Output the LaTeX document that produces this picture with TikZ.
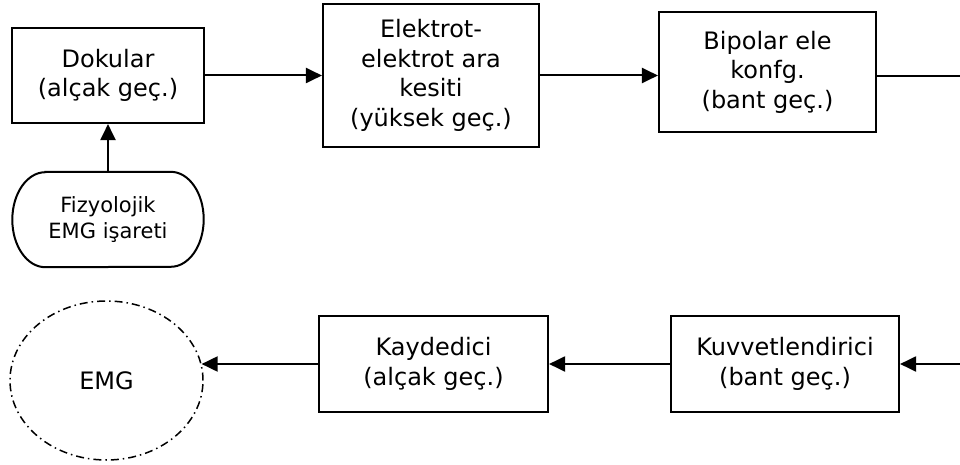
\documentclass[tikz,border=0pt]{standalone}
\usepackage{fontspec}
\setmainfont{DejaVu Sans}
\usetikzlibrary{arrows.meta,shapes.geometric}

\tikzset{
  blk/.style={draw, line width=2.1pt, rectangle, align=center, inner sep=0pt,
              font=\fontsize{24}{29.5}\selectfont},
  src/.style={rectangle, align=center, inner sep=0pt,
              font=\fontsize{21}{25.5}\selectfont},
  sink/.style={ellipse, draw, line width=1.5pt, inner sep=0pt,
               dash pattern=on 8pt off 4pt on 1.5pt off 4pt,
               font=\fontsize{24}{29.5}\selectfont},
  arr/.style={line width=2pt, -{Triangle[length=16pt,width=15pt]}},
  wire/.style={line width=2pt}
}

\begin{document}
\begin{tikzpicture}[x=1pt,y=-1pt]
  \useasboundingbox[fill=white] (0,0) rectangle (960,465);

  % upper row
  \node[blk, minimum width=192pt, minimum height=95pt] (dok) at (108,75.5)
    {Dokular\\(alçak geç.)};
  \node[blk, minimum width=216pt, minimum height=143pt] (ele) at (431,75.5)
    {Elektrot-\\elektrot ara\\kesiti\\(yüksek geç.)};
  \node[blk, minimum width=217pt, minimum height=120pt] (bip) at (767.5,72)
    {Bipolar ele\\konfg.\\(bant geç.)};

  % signal source (terminator shape)
  \node[src, minimum width=191pt, minimum height=95pt] (fiz) at (108,219.5)
    {Fizyolojik\\EMG işareti};
  \draw[line width=2pt]
    ([xshift=33pt]fiz.north west) -- ([xshift=-33pt]fiz.north east)
    arc[start angle=90, end angle=-90, x radius=33pt, y radius=47.5pt]
    -- ([xshift=33pt]fiz.south west)
    arc[start angle=270, end angle=90, x radius=33pt, y radius=47.5pt]
    -- cycle;

  % lower row
  \node[blk, minimum width=228pt, minimum height=96pt] (kuv) at (785,364)
    {Kuvvetlendirici\\(bant geç.)};
  \node[blk, minimum width=229pt, minimum height=96pt] (kay) at (433.5,364)
    {Kaydedici\\(alçak geç.)};
  \node[sink, minimum width=193pt, minimum height=159pt] (emg) at (106.5,380.5)
    {EMG};

  % loose ends at the right margin
  \coordinate (outtop) at (960,76);
  \coordinate (inbot) at (960,364);

  % connectors
  \draw[arr] (fiz.north) -- (dok.south);
  \draw[arr] (dok.east) -- (ele.west);
  \draw[arr] (ele.east) -- (ele.east -| bip.west);
  \draw[wire] (outtop -| bip.east) -- (outtop);
  \draw[arr] (inbot) -- (kuv.east);
  \draw[arr] (kuv.west) -- (kay.east);
  \draw[arr] (kay.west) -- (kay.west -| emg.10);
\end{tikzpicture}
\end{document}
